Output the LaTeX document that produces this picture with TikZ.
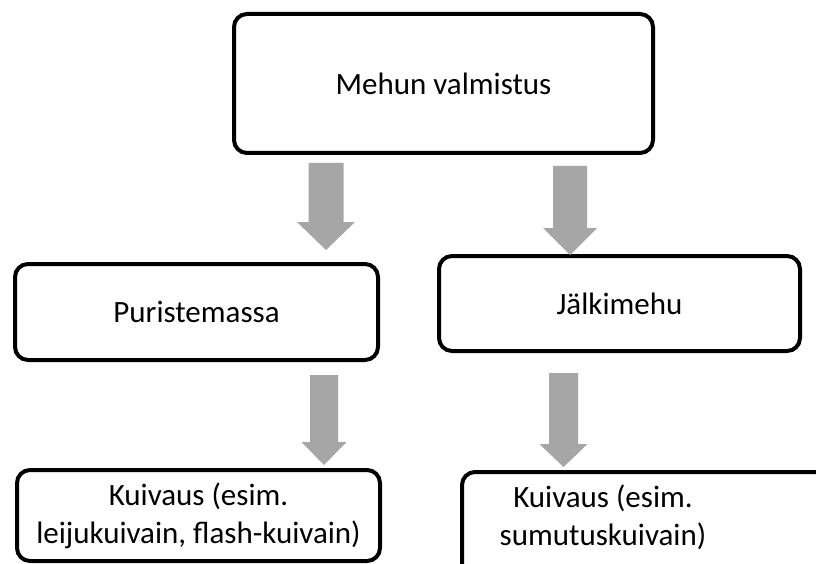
\documentclass[tikz,border=0pt]{standalone}
\usepackage{fontspec}
\setmainfont{Carlito}
\definecolor{arrowgray}{RGB}{166,166,166}
\tikzset{
  box/.style={draw=black, line width=4pt, rounded corners=13pt, fill=white,
    font={\fontsize{31}{38}\selectfont}, align=center, inner sep=0pt},
  txt/.style={font={\fontsize{31}{38}\selectfont}, align=center, inner sep=0pt},
  blockfill/.style={fill=arrowgray, draw=none}
}
% #1 center x, #2 top y, #3 head start y, #4 tip y, #5 shaft half width, #6 head half width
\newcommand{\blockarrow}[6]{%
  \fill[blockfill] ({#1-#5},#2) -- ({#1+#5},#2) -- ({#1+#5},#3) -- ({#1+#6},#3)
    -- (#1,#4) -- ({#1-#6},#3) -- ({#1-#5},#3) -- cycle;}
\begin{document}
\begin{tikzpicture}[x=1pt,y=-1pt]
\useasboundingbox (0,0) rectangle (816,564);
\clip (0,0) rectangle (816,564);
\fill[white] (0,0) rectangle (816,564);

\node[box, minimum width=419pt, minimum height=139pt] (top) at (443.5,83.5) {Mehun valmistus};
\node[box, minimum width=363pt, minimum height=96pt] (pur) at (196.5,312) {Puristemassa};
\node[box, minimum width=361pt, minimum height=95pt] (jal) at (619.5,303.5) {Jälkimehu};
\node[box, minimum width=363pt, minimum height=91pt] (kl) at (198.5,515.5) {Kuivaus (esim.\\leijukuivain, flash-kuivain)};
\node[box, minimum width=380pt, minimum height=110pt] (kr) at (652,527) {};
\node[txt] (krt) at (603,517) {Kuivaus (esim.\\sumutuskuivain)};

\blockarrow{326}{163}{222}{250}{17.5}{29}
\blockarrow{570}{166}{228}{255}{17}{27}
\blockarrow{324}{375}{442}{465}{14}{22.5}
\blockarrow{563.5}{373}{444}{467}{14.5}{24}
\end{tikzpicture}
\end{document}
